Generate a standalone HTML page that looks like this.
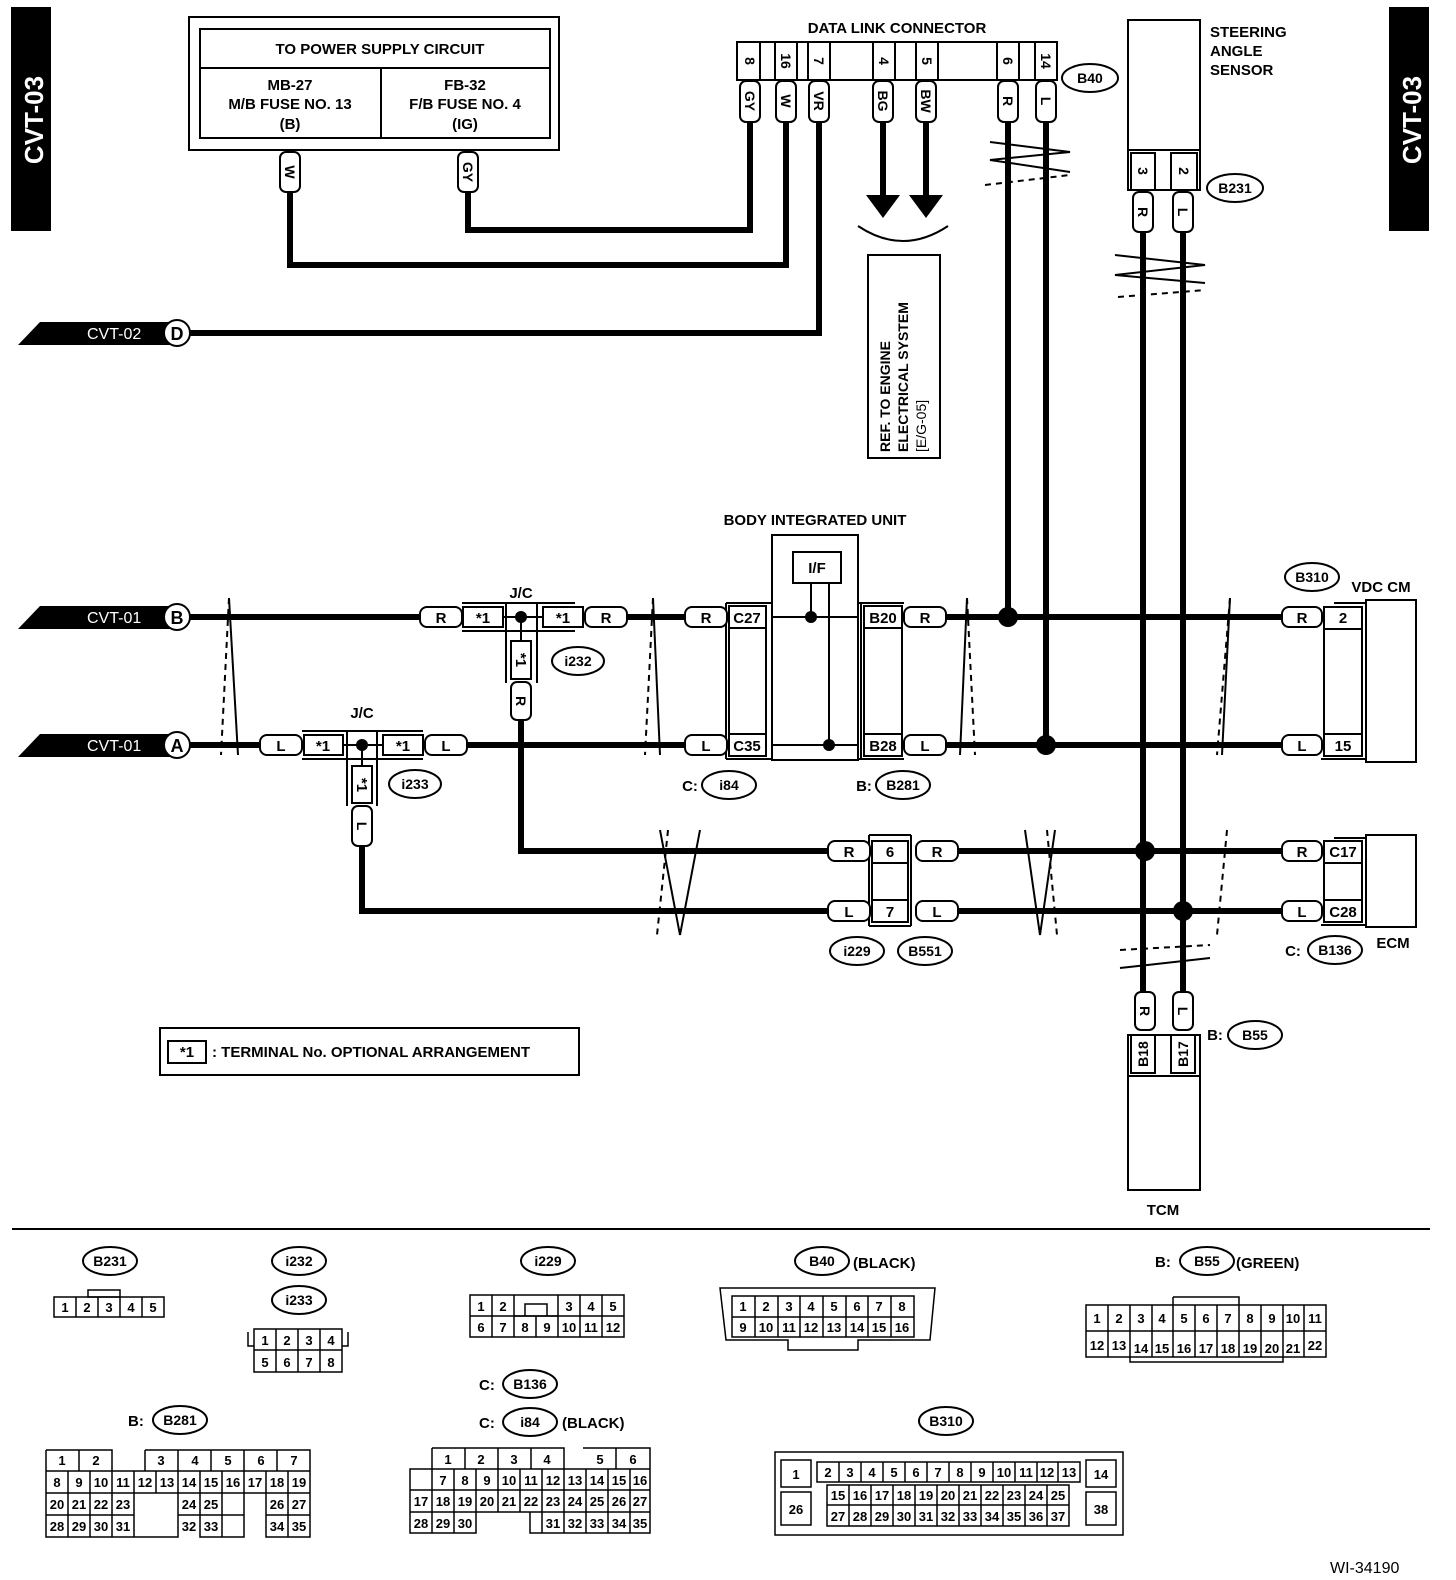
<!DOCTYPE html>
<html><head><meta charset="utf-8"><style>
html,body{margin:0;padding:0;background:#fff}
svg{display:block}
text{font-family:"Liberation Sans",Arial,sans-serif;font-weight:bold;fill:#000}
</style></head><body>
<svg width="1456" height="1580" viewBox="0 0 1456 1580" xmlns="http://www.w3.org/2000/svg">
<g fill="none" stroke="#000" stroke-width="2">
<rect x="12" y="8" width="38" height="222" fill="#000"/>
<rect x="1390" y="8" width="38" height="222" fill="#000"/>
</g>
<text transform="translate(43,120) rotate(-90)" text-anchor="middle" font-size="26" style="fill:#fff">CVT-03</text>
<text transform="translate(1421,120) rotate(-90)" text-anchor="middle" font-size="26" style="fill:#fff">CVT-03</text>

<g fill="none" stroke="#000" stroke-width="2">
<rect x="189" y="17" width="370" height="133"/>
<rect x="200" y="29" width="350" height="109"/>
<line x1="200" y1="68" x2="550" y2="68"/>
<line x1="381" y1="68" x2="381" y2="138"/>
</g>
<g font-size="15" text-anchor="middle">
<text x="380" y="54">TO POWER SUPPLY CIRCUIT</text>
<text x="290" y="90">MB-27</text><text x="290" y="109">M/B FUSE NO. 13</text><text x="290" y="129">(B)</text>
<text x="465" y="90">FB-32</text><text x="465" y="109">F/B FUSE NO. 4</text><text x="465" y="129">(IG)</text>
</g>

<g fill="none" stroke="#000" stroke-width="6" stroke-linejoin="miter">
<polyline points="290,192 290,265 786,265 786,122"/>
<polyline points="468,192 468,230 750,230 750,122"/>
<polyline points="190,333 819,333 819,122"/>
<line x1="883" y1="122" x2="883" y2="198"/>
<line x1="926" y1="122" x2="926" y2="198"/>
<line x1="1008" y1="122" x2="1008" y2="617"/>
<line x1="1046" y1="122" x2="1046" y2="745"/>
<line x1="1143" y1="232" x2="1143" y2="992"/>
<line x1="1183" y1="232" x2="1183" y2="992"/>
<line x1="190" y1="617" x2="420" y2="617"/>
<line x1="627" y1="617" x2="685" y2="617"/>
<line x1="946" y1="617" x2="1282" y2="617"/>
<line x1="190" y1="745" x2="260" y2="745"/>
<line x1="465" y1="745" x2="685" y2="745"/>
<line x1="946" y1="745" x2="1282" y2="745"/>
<polyline points="521,720 521,851 828,851"/>
<polyline points="362,846 362,911 828,911"/>
<line x1="958" y1="851" x2="1282" y2="851"/>
<line x1="958" y1="911" x2="1282" y2="911"/>
</g>
<polygon points="866,195 900,195 883,218" fill="#000"/>
<polygon points="909,195 943,195 926,218" fill="#000"/>
<path d="M858,226 Q903,256 948,226" fill="none" stroke="#000" stroke-width="2"/>
<g fill="#000">
<circle cx="1008" cy="617" r="10"/><circle cx="1046" cy="745" r="10"/>
<circle cx="1145" cy="851" r="10"/><circle cx="1183" cy="911" r="10"/>
<circle cx="521" cy="617" r="6"/><circle cx="362" cy="745" r="6"/>
<circle cx="811" cy="617" r="6"/><circle cx="829" cy="745" r="6"/>
</g>

<g>
<polygon points="40,322 170,322 170,345 18,345" fill="#000"/>
<circle cx="177" cy="333" r="13" fill="#fff" stroke="#000" stroke-width="2"/>
<polygon points="40,606 170,606 170,629 18,629" fill="#000"/>
<circle cx="177" cy="617" r="13" fill="#fff" stroke="#000" stroke-width="2"/>
<polygon points="40,734 170,734 170,757 18,757" fill="#000"/>
<circle cx="177" cy="745" r="13" fill="#fff" stroke="#000" stroke-width="2"/>
</g>
<g font-size="16">
<text x="87" y="339" style="fill:#fff;font-weight:normal">CVT-02</text>
<text x="87" y="623" style="fill:#fff;font-weight:normal">CVT-01</text>
<text x="87" y="751" style="fill:#fff;font-weight:normal">CVT-01</text>
</g>
<g font-size="18" text-anchor="middle"><text x="177" y="340">D</text><text x="177" y="624">B</text><text x="177" y="752">A</text></g>

<g fill="none" stroke="#000" stroke-width="2">
<rect x="737" y="42" width="320" height="38" fill="#fff"/>
<line x1="760" y1="42" x2="760" y2="80"/><line x1="775" y1="42" x2="775" y2="80"/><line x1="797" y1="42" x2="797" y2="80"/><line x1="808" y1="42" x2="808" y2="80"/><line x1="830" y1="42" x2="830" y2="80"/>
<line x1="873" y1="42" x2="873" y2="80"/><line x1="895" y1="42" x2="895" y2="80"/><line x1="916" y1="42" x2="916" y2="80"/><line x1="938" y1="42" x2="938" y2="80"/>
<line x1="997" y1="42" x2="997" y2="80"/><line x1="1019" y1="42" x2="1019" y2="80"/><line x1="1035" y1="42" x2="1035" y2="80"/>
</g>
<g font-size="14" text-anchor="middle">
<text x="897" y="33" font-size="15">DATA LINK CONNECTOR</text>
<text transform="translate(745,61) rotate(90)">8</text>
<text transform="translate(781,61) rotate(90)">16</text>
<text transform="translate(814,61) rotate(90)">7</text>
<text transform="translate(879,61) rotate(90)">4</text>
<text transform="translate(922,61) rotate(90)">5</text>
<text transform="translate(1003,61) rotate(90)">6</text>
<text transform="translate(1041,61) rotate(90)">14</text>
</g>

<g fill="#fff" stroke="#000" stroke-width="2">
<rect x="280" y="152" width="20" height="40" rx="6"/>
<rect x="458" y="152" width="20" height="40" rx="6"/>
<rect x="740" y="81" width="20" height="41" rx="6"/>
<rect x="776" y="81" width="20" height="41" rx="6"/>
<rect x="809" y="81" width="20" height="41" rx="6"/>
<rect x="873" y="81" width="20" height="41" rx="6"/>
<rect x="916" y="81" width="20" height="41" rx="6"/>
<rect x="998" y="81" width="20" height="41" rx="6"/>
<rect x="1036" y="81" width="20" height="41" rx="6"/>
<rect x="1133" y="192" width="20" height="40" rx="6"/>
<rect x="1173" y="192" width="20" height="40" rx="6"/>
<rect x="511" y="682" width="20" height="38" rx="6"/>
<rect x="352" y="806" width="20" height="40" rx="6"/>
<rect x="1135" y="992" width="20" height="38" rx="6"/>
<rect x="1173" y="992" width="20" height="38" rx="6"/>
</g>
<g font-size="14" text-anchor="middle">
<text transform="translate(285,172) rotate(90)">W</text>
<text transform="translate(463,172) rotate(90)">GY</text>
<text transform="translate(745,101) rotate(90)">GY</text>
<text transform="translate(781,101) rotate(90)">W</text>
<text transform="translate(814,101) rotate(90)">VR</text>
<text transform="translate(878,101) rotate(90)">BG</text>
<text transform="translate(921,101) rotate(90)">BW</text>
<text transform="translate(1003,101) rotate(90)">R</text>
<text transform="translate(1041,101) rotate(90)">L</text>
<text transform="translate(1138,212) rotate(90)">R</text>
<text transform="translate(1178,212) rotate(90)">L</text>
<text transform="translate(516,701) rotate(90)">R</text>
<text transform="translate(357,826) rotate(90)">L</text>
<text transform="translate(1140,1011) rotate(90)">R</text>
<text transform="translate(1178,1011) rotate(90)">L</text>
</g>
<g fill="#fff" stroke="#000" stroke-width="2">
<ellipse cx="1090" cy="78" rx="28" ry="14"/>
<ellipse cx="1235" cy="188" rx="28" ry="14"/>
</g>
<g font-size="14" text-anchor="middle"><text x="1090" y="83">B40</text><text x="1235" y="193">B231</text></g>

<g fill="none" stroke="#000" stroke-width="2">
<rect x="1128" y="20" width="72" height="130"/>
<rect x="1128" y="150" width="72" height="40"/>
<rect x="1131" y="153" width="24" height="37"/>
<rect x="1171" y="153" width="26" height="37"/>
</g>
<g font-size="15">
<text x="1210" y="37">STEERING</text><text x="1210" y="56">ANGLE</text><text x="1210" y="75">SENSOR</text>
</g>
<g font-size="14" text-anchor="middle"><text transform="translate(1138,171) rotate(90)">3</text><text transform="translate(1179,171) rotate(90)">2</text></g>

<rect x="868" y="255" width="72" height="203" fill="none" stroke="#000" stroke-width="2"/>
<g font-size="14">
<text transform="translate(890,452) rotate(-90)">REF. TO ENGINE</text>
<text transform="translate(908,452) rotate(-90)">ELECTRICAL SYSTEM</text>
<text transform="translate(926,452) rotate(-90)" style="font-weight:normal">[E/G-05]</text>
</g>

<g fill="none" stroke="#000" stroke-width="2">
<polyline points="990,142 1070,152 990,160 1070,172"/>
<polyline points="1115,255 1205,265 1115,275 1205,283"/>
<polyline points="229,598 238,755"/><polyline points="653,598 660,755"/>
<polyline points="967,598 960,755"/><polyline points="1230,598 1222,755"/>
<polyline points="660,830 680,935 700,830"/>
<polyline points="1025,830 1040,935 1055,830"/>
<polyline points="1120,968 1210,958"/>
</g>
<g fill="none" stroke="#000" stroke-width="2" stroke-dasharray="6,5">
<line x1="985" y1="185" x2="1070" y2="175"/>
<line x1="1118" y1="297" x2="1205" y2="290"/>
<line x1="229" y1="598" x2="221" y2="755"/><line x1="653" y1="598" x2="645" y2="755"/>
<line x1="967" y1="598" x2="975" y2="755"/><line x1="1230" y1="598" x2="1217" y2="755"/>
<line x1="668" y1="830" x2="657" y2="935"/><line x1="1047" y1="830" x2="1057" y2="935"/>
<line x1="1227" y1="830" x2="1217" y2="935"/>
<line x1="1120" y1="950" x2="1210" y2="945"/>
</g>

<g fill="#fff" stroke="#000" stroke-width="2">
<rect x="420" y="607" width="42" height="20" rx="7"/>
<rect x="585" y="607" width="42" height="20" rx="7"/>
<rect x="463" y="607" width="40" height="20"/>
<rect x="543" y="607" width="40" height="20"/>
<rect x="511" y="641" width="20" height="38"/>
<rect x="260" y="735" width="42" height="20" rx="7"/>
<rect x="425" y="735" width="42" height="20" rx="7"/>
<rect x="304" y="735" width="39" height="20"/>
<rect x="383" y="735" width="40" height="20"/>
<rect x="352" y="766" width="20" height="37"/>
</g>
<g fill="none" stroke="#000" stroke-width="2">
<line x1="462" y1="603" x2="575" y2="603"/><line x1="462" y1="631" x2="575" y2="631"/>
<line x1="506" y1="603" x2="506" y2="683"/><line x1="537" y1="603" x2="537" y2="683"/>
<line x1="503" y1="617" x2="543" y2="617"/><line x1="521" y1="617" x2="521" y2="641"/>
<line x1="302" y1="731" x2="423" y2="731"/><line x1="302" y1="759" x2="423" y2="759"/>
<line x1="347" y1="731" x2="347" y2="806"/><line x1="377" y1="731" x2="377" y2="806"/>
<line x1="343" y1="745" x2="383" y2="745"/><line x1="362" y1="745" x2="362" y2="766"/>
</g>
<g font-size="15" text-anchor="middle">
<text x="521" y="598">J/C</text><text x="362" y="718">J/C</text>
<text x="441" y="623">R</text><text x="606" y="623">R</text><text x="483" y="623">*1</text><text x="563" y="623">*1</text>
<text x="281" y="751">L</text><text x="446" y="751">L</text><text x="323" y="751">*1</text><text x="403" y="751">*1</text>
<text transform="translate(516,660) rotate(90)">*1</text>
<text transform="translate(357,785) rotate(90)">*1</text>
</g>

<g fill="none" stroke="#000" stroke-width="2">
<rect x="772" y="535" width="86" height="225"/>
<rect x="793" y="552" width="48" height="31"/>
<line x1="811" y1="583" x2="811" y2="617"/><line x1="829" y1="583" x2="829" y2="745"/>
<line x1="772" y1="617" x2="858" y2="617"/><line x1="772" y1="745" x2="858" y2="745"/>
<rect x="729" y="606" width="37" height="22"/><rect x="729" y="734" width="37" height="22"/>
<line x1="729" y1="628" x2="729" y2="734"/><line x1="766" y1="628" x2="766" y2="734"/>
<line x1="726" y1="603" x2="726" y2="759"/><line x1="726" y1="603" x2="772" y2="603"/><line x1="726" y1="759" x2="772" y2="759"/>
<rect x="864" y="606" width="38" height="22"/><rect x="864" y="734" width="38" height="22"/>
<line x1="864" y1="628" x2="864" y2="734"/><line x1="902" y1="628" x2="902" y2="734"/>
<line x1="861" y1="603" x2="861" y2="759"/><line x1="858" y1="603" x2="904" y2="603"/><line x1="858" y1="759" x2="904" y2="759"/>
</g>
<g fill="#fff" stroke="#000" stroke-width="2">
<rect x="685" y="607" width="42" height="20" rx="7"/><rect x="685" y="735" width="42" height="20" rx="7"/>
<rect x="904" y="607" width="42" height="20" rx="7"/><rect x="904" y="735" width="42" height="20" rx="7"/>
</g>
<g font-size="15" text-anchor="middle">
<text x="815" y="525">BODY INTEGRATED UNIT</text>
<text x="817" y="573">I/F</text>
<text x="706" y="623">R</text><text x="706" y="751">L</text><text x="925" y="623">R</text><text x="925" y="751">L</text>
<text x="747" y="623">C27</text><text x="747" y="751">C35</text><text x="883" y="623">B20</text><text x="883" y="751">B28</text>
</g>

<g fill="none" stroke="#000" stroke-width="2">
<rect x="1366" y="600" width="50" height="162"/>
<rect x="1324" y="607" width="38" height="22"/><rect x="1324" y="734" width="38" height="22"/>
<line x1="1324" y1="629" x2="1324" y2="734"/><line x1="1362" y1="629" x2="1362" y2="734"/>
<line x1="1334" y1="603" x2="1366" y2="603"/><line x1="1321" y1="759" x2="1366" y2="759"/>
<rect x="1366" y="835" width="50" height="92"/>
<rect x="1324" y="841" width="38" height="22"/><rect x="1324" y="900" width="38" height="22"/>
<line x1="1324" y1="863" x2="1324" y2="900"/><line x1="1362" y1="863" x2="1362" y2="900"/>
<line x1="1334" y1="838" x2="1366" y2="838"/><line x1="1321" y1="925" x2="1366" y2="925"/>
</g>
<g fill="#fff" stroke="#000" stroke-width="2">
<rect x="1282" y="607" width="40" height="20" rx="7"/><rect x="1282" y="735" width="40" height="20" rx="7"/>
<rect x="1282" y="841" width="40" height="20" rx="7"/><rect x="1282" y="901" width="40" height="20" rx="7"/>
<ellipse cx="1312" cy="577" rx="27" ry="14"/>
<ellipse cx="1335" cy="950" rx="27" ry="14"/>
</g>
<g font-size="15" text-anchor="middle">
<text x="1302" y="623">R</text><text x="1302" y="751">L</text><text x="1302" y="857">R</text><text x="1302" y="917">L</text>
<text x="1343" y="623">2</text><text x="1343" y="751">15</text><text x="1343" y="857">C17</text><text x="1343" y="917">C28</text>
<text x="1312" y="582" font-size="14">B310</text><text x="1381" y="592">VDC CM</text>
<text x="1335" y="955" font-size="14">B136</text><text x="1293" y="956">C:</text><text x="1393" y="948">ECM</text>
</g>

<g fill="none" stroke="#000" stroke-width="2">
<rect x="872" y="841" width="36" height="22"/><rect x="872" y="900" width="36" height="22"/>
<line x1="872" y1="863" x2="872" y2="900"/><line x1="908" y1="863" x2="908" y2="900"/>
<line x1="869" y1="835" x2="869" y2="926"/><line x1="869" y1="835" x2="911" y2="835"/>
<line x1="911" y1="835" x2="911" y2="926"/><line x1="869" y1="926" x2="911" y2="926"/>
</g>
<g fill="#fff" stroke="#000" stroke-width="2">
<rect x="828" y="841" width="42" height="20" rx="7"/><rect x="828" y="901" width="42" height="20" rx="7"/>
<rect x="916" y="841" width="42" height="20" rx="7"/><rect x="916" y="901" width="42" height="20" rx="7"/>
<ellipse cx="578" cy="661" rx="26" ry="14"/><ellipse cx="415" cy="784" rx="26" ry="14"/>
<ellipse cx="729" cy="785" rx="27" ry="14"/><ellipse cx="903" cy="785" rx="27" ry="14"/>
<ellipse cx="857" cy="951" rx="27" ry="14"/><ellipse cx="925" cy="951" rx="27" ry="14"/>
<ellipse cx="1255" cy="1035" rx="27" ry="14"/>
</g>
<g font-size="15" text-anchor="middle">
<text x="849" y="857">R</text><text x="849" y="917">L</text><text x="937" y="857">R</text><text x="937" y="917">L</text>
<text x="890" y="857">6</text><text x="890" y="917">7</text>
<text x="578" y="666" font-size="14">i232</text><text x="415" y="789" font-size="14">i233</text>
<text x="729" y="790" font-size="14">i84</text><text x="690" y="791">C:</text>
<text x="903" y="790" font-size="14">B281</text><text x="864" y="791">B:</text>
<text x="857" y="956" font-size="14">i229</text><text x="925" y="956" font-size="14">B551</text>
<text x="1255" y="1040" font-size="14">B55</text><text x="1215" y="1040">B:</text>
</g>

<g fill="none" stroke="#000" stroke-width="2">
<rect x="1128" y="1035" width="72" height="155"/>
<rect x="1131" y="1035" width="24" height="38"/><rect x="1171" y="1035" width="24" height="38"/>
<line x1="1128" y1="1076" x2="1200" y2="1076"/>
</g>
<g font-size="14" text-anchor="middle">
<text transform="translate(1148,1054) rotate(-90)">B18</text>
<text transform="translate(1188,1054) rotate(-90)">B17</text>
<text x="1163" y="1215" font-size="15">TCM</text>
</g>

<rect x="160" y="1028" width="419" height="47" fill="none" stroke="#000" stroke-width="2"/>
<rect x="168" y="1041" width="38" height="22" fill="none" stroke="#000" stroke-width="2"/>
<text x="187" y="1057" font-size="15" text-anchor="middle">*1</text>
<text x="212" y="1057" font-size="15">: TERMINAL No. OPTIONAL ARRANGEMENT</text>

<line x1="12" y1="1229" x2="1430" y2="1229" stroke="#000" stroke-width="2"/>

<g fill="#fff" stroke="#000" stroke-width="2">
<ellipse cx="110" cy="1261" rx="27" ry="14"/><ellipse cx="299" cy="1261" rx="27" ry="14"/>
<ellipse cx="299" cy="1300" rx="27" ry="14"/><ellipse cx="548" cy="1261" rx="27" ry="14"/>
<ellipse cx="822" cy="1261" rx="27" ry="14"/><ellipse cx="1207" cy="1261" rx="27" ry="14"/>
<ellipse cx="530" cy="1384" rx="27" ry="14"/><ellipse cx="530" cy="1422" rx="27" ry="14"/>
<ellipse cx="180" cy="1420" rx="27" ry="14"/><ellipse cx="946" cy="1421" rx="27" ry="14"/>
</g>
<g font-size="14" text-anchor="middle">
<text x="110" y="1266">B231</text><text x="299" y="1266">i232</text><text x="299" y="1305">i233</text>
<text x="548" y="1266">i229</text><text x="822" y="1266">B40</text><text x="1207" y="1266">B55</text>
<text x="530" y="1389">B136</text><text x="530" y="1427">i84</text><text x="180" y="1425">B281</text><text x="946" y="1426">B310</text>
</g>
<g font-size="15">
<text x="853" y="1268">(BLACK)</text><text x="1236" y="1268">(GREEN)</text><text x="1155" y="1267">B:</text>
<text x="479" y="1390">C:</text><text x="479" y="1428">C:</text><text x="562" y="1428">(BLACK)</text>
<text x="128" y="1426">B:</text>
<text x="1330" y="1573" style="font-weight:normal" font-size="16">WI-34190</text>
</g>

<g fill="none" stroke="#000" stroke-width="1.5">
<rect x="54" y="1297" width="110" height="20"/><rect x="88" y="1290" width="32" height="7"/>
<path d="M76 1297V1317M98 1297V1317M120 1297V1317M142 1297V1317"/>
<rect x="254" y="1329" width="88" height="43"/><line x1="254" y1="1350" x2="342" y2="1350"/>
<path d="M276 1329V1372M298 1329V1372M320 1329V1372M248 1332V1346H254M348 1332V1346H342"/>
<rect x="470" y="1295" width="154" height="42"/><line x1="470" y1="1316" x2="624" y2="1316"/>
<path d="M492 1295V1337M514 1295V1337M536 1316V1337M558 1295V1337M580 1295V1337M602 1295V1337M514 1316H558M525 1316V1304H547V1316"/>
<path d="M720 1288H935L930 1340H858V1350H788V1340H726Z"/>
<rect x="732" y="1296" width="182" height="41"/><line x1="732" y1="1317" x2="914" y2="1317"/>
<path d="M755 1296V1337M778 1296V1337M800 1296V1337M823 1296V1337M846 1296V1337M868 1296V1337M891 1296V1337"/>
<rect x="1086" y="1305" width="240" height="52"/><line x1="1086" y1="1331" x2="1326" y2="1331"/>
<path d="M1108 1305V1357M1130 1305V1357M1152 1305V1357M1173 1305V1357M1195 1305V1357M1217 1305V1357M1239 1305V1357M1261 1305V1357M1283 1305V1357M1304 1305V1357M1173 1297H1239V1305M1173 1297V1305M1130 1331V1362H1283V1331"/>
<path d="M46 1450H112V1471M145 1450H310V1537H266V1493M244 1493V1537H200V1493M178 1493V1537H134V1493M46 1450V1537H134"/>
<path d="M46 1471H310M46 1493H310M46 1515H134M178 1515H244M266 1515H310"/>
<path d="M79 1450V1471M145 1450V1471M178 1450V1471M211 1450V1471M244 1450V1471M277 1450V1471"/>
<path d="M68 1471V1537M90 1471V1537M112 1471V1537M134 1471V1493M156 1471V1493M178 1471V1493M200 1471V1493M222 1471V1537M244 1471V1493M266 1471V1493M288 1471V1537"/>
<path d="M432 1448H564V1469M583 1448H650V1469M432 1448V1469H410V1533H476V1512M530 1512V1533H650V1448"/>
<path d="M410 1490H650M410 1512H650M432 1469H650M465 1448V1469M498 1448V1469M531 1448V1469M616 1448V1469"/>
<path d="M432 1469V1533M454 1469V1533M476 1469V1512M498 1469V1512M520 1469V1512M542 1469V1533M564 1469V1533M586 1469V1533M608 1469V1533M630 1469V1533"/>
<rect x="775" y="1452" width="348" height="83"/>
<rect x="781" y="1460" width="30" height="27"/><rect x="781" y="1492" width="30" height="33"/>
<rect x="1086" y="1460" width="30" height="27"/><rect x="1086" y="1492" width="30" height="33"/>
<rect x="817" y="1462" width="263" height="20"/>
<path d="M839 1462V1482M861 1462V1482M883 1462V1482M905 1462V1482M927 1462V1482M949 1462V1482M971 1462V1482M993 1462V1482M1015 1462V1482M1037 1462V1482M1058 1462V1482"/>
<rect x="827" y="1485" width="242" height="41"/><line x1="827" y1="1505" x2="1069" y2="1505"/>
<path d="M849 1485V1526M871 1485V1526M893 1485V1526M915 1485V1526M937 1485V1526M959 1485V1526M981 1485V1526M1003 1485V1526M1025 1485V1526M1047 1485V1526"/>
</g>
<g font-size="13" text-anchor="middle" style="font-weight:normal">
<text x="65" y="1312">1</text><text x="87" y="1312">2</text><text x="109" y="1312">3</text><text x="131" y="1312">4</text><text x="153" y="1312">5</text>
<text x="265" y="1345">1</text><text x="287" y="1345">2</text><text x="309" y="1345">3</text><text x="331" y="1345">4</text>
<text x="265" y="1367">5</text><text x="287" y="1367">6</text><text x="309" y="1367">7</text><text x="331" y="1367">8</text>
<text x="481" y="1311">1</text><text x="503" y="1311">2</text><text x="569" y="1311">3</text><text x="591" y="1311">4</text><text x="613" y="1311">5</text>
<text x="481" y="1332">6</text><text x="503" y="1332">7</text><text x="525" y="1332">8</text><text x="547" y="1332">9</text><text x="569" y="1332">10</text><text x="591" y="1332">11</text><text x="613" y="1332">12</text>
<text x="743" y="1311">1</text><text x="766" y="1311">2</text><text x="789" y="1311">3</text><text x="811" y="1311">4</text><text x="834" y="1311">5</text><text x="857" y="1311">6</text><text x="879" y="1311">7</text><text x="902" y="1311">8</text>
<text x="743" y="1332">9</text><text x="766" y="1332">10</text><text x="789" y="1332">11</text><text x="811" y="1332">12</text><text x="834" y="1332">13</text><text x="857" y="1332">14</text><text x="879" y="1332">15</text><text x="902" y="1332">16</text>
<text x="1097" y="1323">1</text><text x="1119" y="1323">2</text><text x="1141" y="1323">3</text><text x="1162" y="1323">4</text><text x="1184" y="1323">5</text><text x="1206" y="1323">6</text><text x="1228" y="1323">7</text><text x="1250" y="1323">8</text><text x="1272" y="1323">9</text><text x="1293" y="1323">10</text><text x="1315" y="1323">11</text>
<text x="1097" y="1350">12</text><text x="1119" y="1350">13</text><text x="1141" y="1353">14</text><text x="1162" y="1353">15</text><text x="1184" y="1353">16</text><text x="1206" y="1353">17</text><text x="1228" y="1353">18</text><text x="1250" y="1353">19</text><text x="1272" y="1353">20</text><text x="1293" y="1353">21</text><text x="1315" y="1350">22</text>
<text x="62" y="1465">1</text><text x="96" y="1465">2</text><text x="161" y="1465">3</text><text x="195" y="1465">4</text><text x="228" y="1465">5</text><text x="261" y="1465">6</text><text x="294" y="1465">7</text>
<text x="57" y="1487">8</text><text x="79" y="1487">9</text><text x="101" y="1487">10</text><text x="123" y="1487">11</text><text x="145" y="1487">12</text><text x="167" y="1487">13</text><text x="189" y="1487">14</text><text x="211" y="1487">15</text><text x="233" y="1487">16</text><text x="255" y="1487">17</text><text x="277" y="1487">18</text><text x="299" y="1487">19</text>
<text x="57" y="1509">20</text><text x="79" y="1509">21</text><text x="101" y="1509">22</text><text x="123" y="1509">23</text><text x="189" y="1509">24</text><text x="211" y="1509">25</text><text x="277" y="1509">26</text><text x="299" y="1509">27</text>
<text x="57" y="1531">28</text><text x="79" y="1531">29</text><text x="101" y="1531">30</text><text x="123" y="1531">31</text><text x="189" y="1531">32</text><text x="211" y="1531">33</text><text x="277" y="1531">34</text><text x="299" y="1531">35</text>
<text x="448" y="1464">1</text><text x="481" y="1464">2</text><text x="514" y="1464">3</text><text x="547" y="1464">4</text><text x="600" y="1464">5</text><text x="633" y="1464">6</text>
<text x="443" y="1485">7</text><text x="465" y="1485">8</text><text x="487" y="1485">9</text><text x="509" y="1485">10</text><text x="531" y="1485">11</text><text x="553" y="1485">12</text><text x="575" y="1485">13</text><text x="597" y="1485">14</text><text x="619" y="1485">15</text><text x="640" y="1485">16</text>
<text x="421" y="1506">17</text><text x="443" y="1506">18</text><text x="465" y="1506">19</text><text x="487" y="1506">20</text><text x="509" y="1506">21</text><text x="531" y="1506">22</text><text x="553" y="1506">23</text><text x="575" y="1506">24</text><text x="597" y="1506">25</text><text x="619" y="1506">26</text><text x="640" y="1506">27</text>
<text x="421" y="1528">28</text><text x="443" y="1528">29</text><text x="465" y="1528">30</text><text x="553" y="1528">31</text><text x="575" y="1528">32</text><text x="597" y="1528">33</text><text x="619" y="1528">34</text><text x="640" y="1528">35</text>
<text x="796" y="1479">1</text><text x="796" y="1514">26</text><text x="1101" y="1479">14</text><text x="1101" y="1514">38</text>
<text x="828" y="1477">2</text><text x="850" y="1477">3</text><text x="872" y="1477">4</text><text x="894" y="1477">5</text><text x="916" y="1477">6</text><text x="938" y="1477">7</text><text x="960" y="1477">8</text><text x="982" y="1477">9</text><text x="1004" y="1477">10</text><text x="1026" y="1477">11</text><text x="1047" y="1477">12</text><text x="1069" y="1477">13</text>
<text x="838" y="1500">15</text><text x="860" y="1500">16</text><text x="882" y="1500">17</text><text x="904" y="1500">18</text><text x="926" y="1500">19</text><text x="948" y="1500">20</text><text x="970" y="1500">21</text><text x="992" y="1500">22</text><text x="1014" y="1500">23</text><text x="1036" y="1500">24</text><text x="1058" y="1500">25</text>
<text x="838" y="1521">27</text><text x="860" y="1521">28</text><text x="882" y="1521">29</text><text x="904" y="1521">30</text><text x="926" y="1521">31</text><text x="948" y="1521">32</text><text x="970" y="1521">33</text><text x="992" y="1521">34</text><text x="1014" y="1521">35</text><text x="1036" y="1521">36</text><text x="1058" y="1521">37</text>
</g>
</svg>
</body></html>
